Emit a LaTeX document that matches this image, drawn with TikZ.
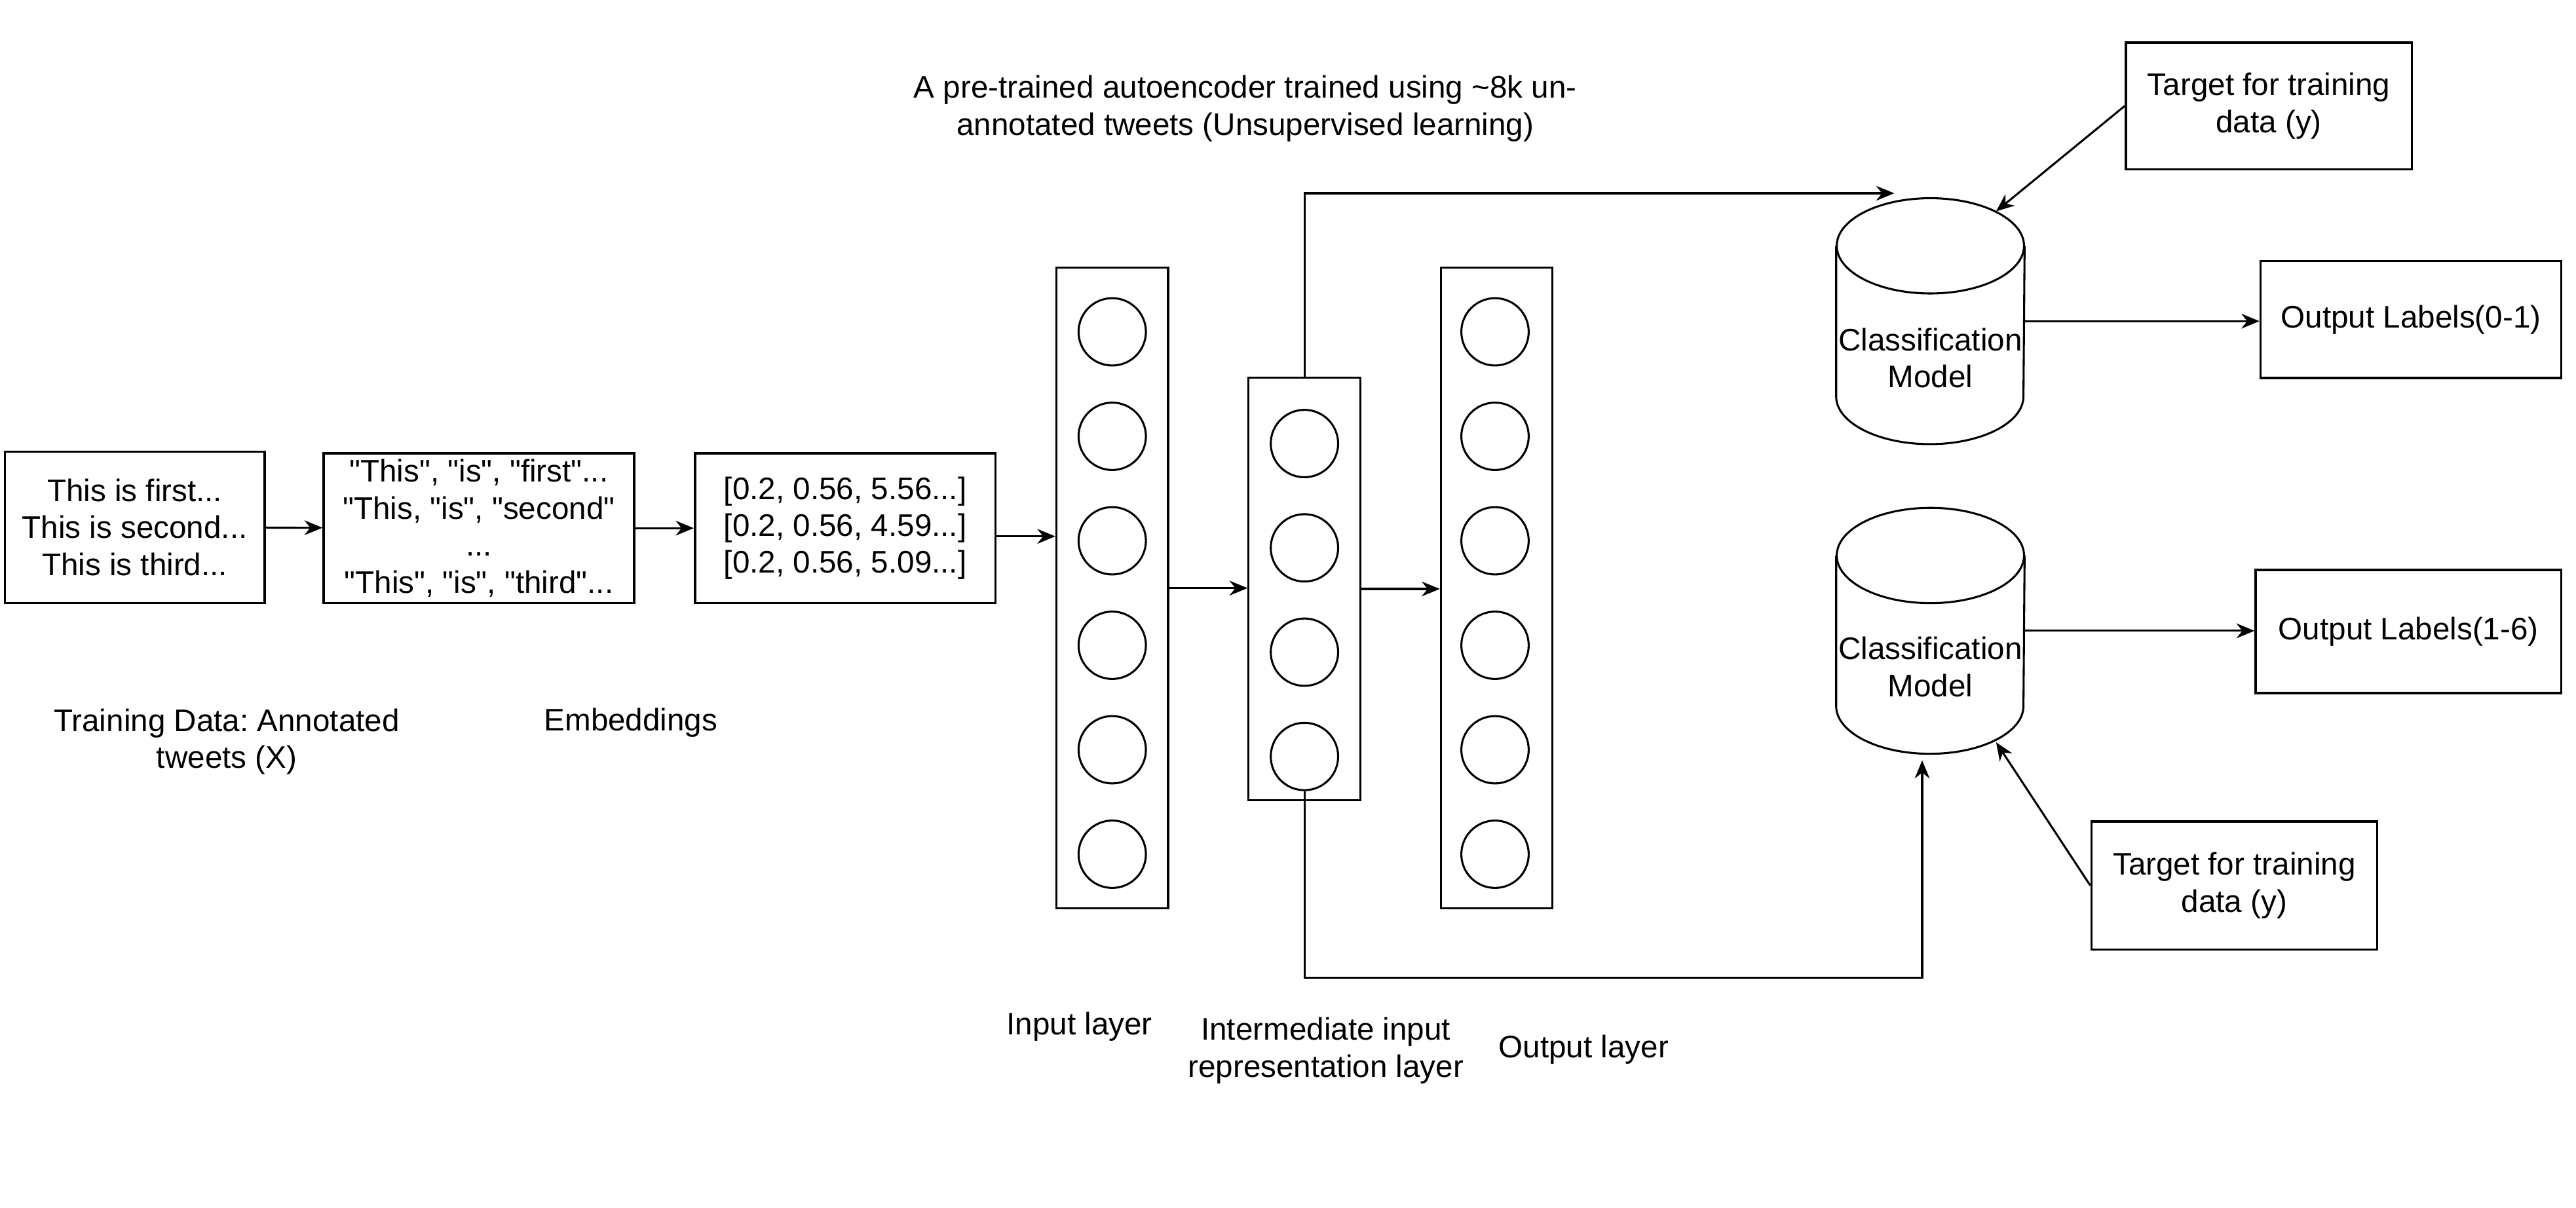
\documentclass[tikz,border=0pt]{standalone}
\usepackage{fontspec}
\setmainfont{Liberation Sans}
\usetikzlibrary{arrows.meta}
\frenchspacing
\newcommand{\qq}{\textquotedbl}

\tikzset{
  box/.style={draw, line width=0.8pt, align=center, inner sep=0pt},
  layer/.style={draw, line width=0.7pt, minimum width=1.36cm, inner sep=0pt},
  neuron/.style={draw, circle, line width=0.7pt, minimum size=0.82cm, inner sep=0pt},
  model/.style={minimum width=2.28cm, minimum height=2.98cm, inner sep=0pt},
  lbl/.style={align=center, inner sep=0pt},
  arr/.style={line width=0.7pt, -{Stealth[length=2.2mm, width=1.8mm]}},
}

\begin{document}
\begin{tikzpicture}[font=\fontsize{10.8}{12.8}\selectfont]
\useasboundingbox (0,0) rectangle (31.36,-14.7);
% data boxes
\node[box, minimum width=3.16cm, minimum height=1.84cm] (tweets) at (1.64,-6.42) {This is first...\\This is second...\\This is third...};
\node[box, minimum width=3.78cm, minimum height=1.82cm] (tokens) at (5.83,-6.43) {\qq This\qq, \qq is\qq, \qq first\qq...\\\qq This, \qq is\qq, \qq second\qq\\...\\\qq This\qq, \qq is\qq, \qq third\qq...};
\node[box, minimum width=3.66cm, minimum height=1.82cm] (embed) at (10.29,-6.43) {{[0.2, 0.56, 5.56...]}\\{[0.2, 0.56, 4.59...]}\\{[0.2, 0.56, 5.09...]}};
\node[lbl] (trainlbl) at (2.76,-9.03) {Training Data: Annotated\\tweets (X)};
\node[lbl] (emblbl) at (7.68,-8.8) {Embeddings};
% autoencoder
\node[lbl] (aelbl) at (15.16,-1.32) {A pre-trained autoencoder trained using \textasciitilde8k un-\\annotated tweets (Unsupervised learning)};
\node[layer, minimum height=7.8cm] (inlayer) at (13.54,-7.16) {};
\node[layer, minimum height=5.14cm] (midlayer) at (15.88,-7.17) {};
\node[layer, minimum height=7.8cm] (outlayer) at (18.22,-7.16) {};
\foreach \i in {1,...,6} {
  \node[neuron] (in\i) at (13.54,{-4.04-1.272*(\i-1)}) {};
  \node[neuron] (out\i) at (18.2,{-4.04-1.272*(\i-1)}) {};
}
\foreach \i in {1,...,4}
  \node[neuron] (mid\i) at (15.88,{-5.4-1.27*(\i-1)}) {};
\node[lbl] (inlbl) at (13.14,-12.5) {Input layer};
\node[lbl] (midlbl) at (16.14,-12.79) {Intermediate input\\representation layer};
\node[lbl] (outlbl) at (19.28,-12.78) {Output layer};
% classifiers
\node[model, label={[lbl, yshift=-0.45cm]center:{Classification\\Model}}] (cylA) at (23.5,-3.91) {};
\node[model, label={[lbl, yshift=-0.44cm]center:{Classification\\Model}}] (cylB) at (23.5,-7.68) {};
\foreach \c in {cylA,cylB} {
  \draw[line width=0.7pt] ([yshift=-0.58cm]\c.north) ellipse [x radius=1.14cm, y radius=0.58cm];
  \draw[line width=0.7pt] ([yshift=-0.58cm]\c.north west) -- ([yshift=0.58cm]\c.south west)
    arc[start angle=180, end angle=360, x radius=1.14cm, y radius=0.58cm] -- ([yshift=-0.58cm]\c.north east);
}
\node[box, minimum width=3.48cm, minimum height=1.54cm] (tgtA) at (27.62,-1.29) {Target for training\\data (y)};
\node[box, minimum width=3.48cm, minimum height=1.56cm] (tgtB) at (27.2,-10.78) {Target for training\\data (y)};
\node[box, minimum width=3.66cm, minimum height=1.42cm] (outA) at (29.35,-3.89) {Output Labels(0-1)};
\node[box, minimum width=3.72cm, minimum height=1.5cm] (outB) at (29.32,-7.69) {Output Labels(1-6)};
% arrows
\draw[arr] (tweets) -- (tokens);
\draw[arr] (tokens) -- (embed);
\draw[arr] ([yshift=-0.1cm]embed.east) -- ([yshift=-0.1cm]embed.east -| inlayer.west);
\draw[arr] (inlayer.east) -- (inlayer.east -| midlayer.west);
\draw[arr] (midlayer.east) -- (midlayer.east -| outlayer.west);
\draw[arr] (midlayer.north) |- ([xshift=-0.44cm, yshift=0.06cm]cylA.north);
\draw[arr] (mid4.south) -- ++(0,-2.27) -| ([xshift=-0.1cm, yshift=-0.08cm]cylB.south);
\draw[arr] (cylA.east) -- (cylA.east -| outA.west);
\draw[arr] (cylB.east) -- (cylB.east -| outB.west);
\draw[arr] (tgtA.west) -- ([xshift=0.8cm, yshift=-0.16cm]cylA.north);
\draw[arr] (tgtB.west) -- ([xshift=0.8cm, yshift=0.14cm]cylB.south);
\end{tikzpicture}
\end{document}
